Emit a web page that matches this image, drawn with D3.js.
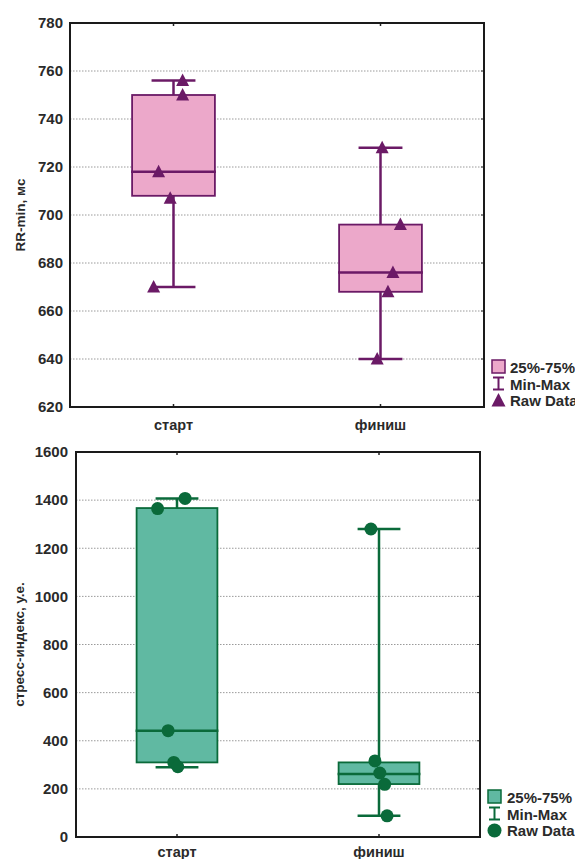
<!DOCTYPE html>
<html><head><meta charset="utf-8">
<script src="https://cdn.jsdelivr.net/npm/d3@7"></script>
<style>
body{margin:0;background:#fff;}
text{font-family:"Liberation Sans",Arial,sans-serif;}
</style></head>
<body><svg id="c" width="575" height="859"></svg>
<script>
// ---------- data ----------
const categories = ["старт", "финиш"];

// RR-min, мс
const rrTicks = [620,640,660,680,700,720,740,760,780];
const rrMin = [670, 640];
const rrQ1  = [708, 668];
const rrMed = [718, 676];
const rrQ3  = [750, 696];
const rrMax = [756, 728];
const rrRawStart  = [756, 750, 718, 707, 670];
const rrRawFinish = [728, 696, 676, 668, 640];
const rrJitterStart  = [0.11, 0.11, -0.18, -0.04, -0.24];
const rrJitterFinish = [0.02, 0.24, 0.15, 0.09, -0.04];

// стресс-индекс, у.е.
const siTicks = [0,200,400,600,800,1000,1200,1400,1600];
const siMin = [290, 88];
const siQ1  = [310, 220];
const siMed = [442, 262];
const siQ3  = [1367, 310];
const siMax = [1407, 1280];
const siRawStart  = [1407, 1365, 442, 310, 292];
const siRawFinish = [1280, 316, 266, 219, 88];
const siJitterStart  = [0.10, -0.24, -0.11, -0.04, 0.01];
const siJitterFinish = [-0.10, -0.05, 0.01, 0.07, 0.10];

const legendLabels = ["25%-75%", "Min-Max", "Raw Data"];

const svg = d3.select("#c");

function drawPanel(cfg){
  const {x0,x1,y0,y1,ticks,mins,q1s,meds,q3s,maxs,raws,jitters,fill,stroke,marker,ylabel,ylabX,tickGap,labelY,legend} = cfg;
  const g = svg.append("g");
  const x = d3.scaleBand().domain(categories).range([x0,x1]).paddingInner(0).paddingOuter(0);
  const y = d3.scaleLinear().domain([ticks[0], ticks[ticks.length-1]]).range([y1,y0]);
  const boxW = x.bandwidth()*0.40;
  const capW = boxW*0.53;
  const cx = c => x(c) + x.bandwidth()/2;

  // grid
  g.selectAll(".grid").data(ticks.slice(1,-1)).enter().append("line")
    .attr("x1",x0).attr("x2",x1).attr("y1",d=>y(d)).attr("y2",d=>y(d))
    .attr("stroke","#9a9a9a").attr("stroke-width",1).attr("stroke-dasharray","1.5,1.5");

  // y axis labels
  const ya = d3.axisLeft(y).tickValues(ticks).tickSize(0).tickPadding(tickGap).tickFormat(d3.format("d"));
  const yg = g.append("g").attr("transform",`translate(${x0},0)`).call(ya);
  yg.select(".domain").remove();
  yg.selectAll("text").attr("font-size",15).attr("font-weight","bold").attr("fill","#2a2a2a");

  // right ticks
  g.selectAll(".rt").data(ticks.slice(1,-1)).enter().append("line")
    .attr("x1",x1-3).attr("x2",x1).attr("y1",d=>y(d)).attr("y2",d=>y(d)).attr("stroke","#333");

  // x axis labels
  const xa = d3.axisBottom(x).tickSize(0).tickPadding(0);
  const xg = g.append("g").attr("transform",`translate(0,${labelY})`).call(xa);
  xg.select(".domain").remove();
  xg.selectAll("text").attr("font-size",14.5).attr("font-weight","bold").attr("fill","#2a2a2a").attr("dy","0");

  // category ticks top/bottom
  categories.forEach(c=>{
    g.append("line").attr("x1",cx(c)).attr("x2",cx(c)).attr("y1",y0).attr("y2",y0+3).attr("stroke","#222").attr("stroke-width",1.5);
    g.append("line").attr("x1",cx(c)).attr("x2",cx(c)).attr("y1",y1).attr("y2",y1-3).attr("stroke","#222").attr("stroke-width",1.5);
  });

  // ylabel
  g.append("text").attr("transform",`translate(${ylabX},${(y0+y1)/2}) rotate(-90)`)
    .attr("text-anchor","middle").attr("font-size",13.5).attr("font-weight","bold").attr("fill","#2a2a2a").text(ylabel);

  // boxes
  categories.forEach((c,i)=>{
    const xc = cx(c);
    g.append("line").attr("x1",xc).attr("x2",xc).attr("y1",y(maxs[i])).attr("y2",y(mins[i])).attr("stroke",stroke).attr("stroke-width",2.5);
    [mins[i],maxs[i]].forEach(v=>{
      g.append("line").attr("x1",xc-capW/2).attr("x2",xc+capW/2).attr("y1",y(v)).attr("y2",y(v)).attr("stroke",stroke).attr("stroke-width",2.5);
    });
    g.append("rect").attr("x",xc-boxW/2).attr("width",boxW).attr("y",y(q3s[i])).attr("height",y(q1s[i])-y(q3s[i]))
      .attr("fill",fill).attr("stroke",stroke).attr("stroke-width",1.8);
    g.append("line").attr("x1",xc-boxW/2-1).attr("x2",xc+boxW/2+1).attr("y1",y(meds[i])).attr("y2",y(meds[i])).attr("stroke",stroke).attr("stroke-width",2.5);
  });

  // raw data
  categories.forEach((c,i)=>{
    raws[i].forEach((v,j)=>{
      const px = cx(c) + jitters[i][j]*boxW, py = y(v);
      if(marker==="tri"){
        g.append("path").attr("d",`M${px},${py-7}L${px+6.5},${py+5.5}L${px-6.5},${py+5.5}Z`).attr("fill",stroke);
      } else {
        g.append("circle").attr("cx",px).attr("cy",py).attr("r",6.5).attr("fill",stroke);
      }
    });
  });

  // frame
  g.append("rect").attr("x",x0).attr("y",y0).attr("width",x1-x0).attr("height",y1-y0)
    .attr("fill","none").attr("stroke","#1a1a1a").attr("stroke-width",2);

  // legend
  const lx = legend.x, ly = legend.y, ls = 16.5;
  g.append("rect").attr("x",lx).attr("y",ly-12).attr("width",13).attr("height",13).attr("fill",fill).attr("stroke",stroke).attr("stroke-width",1.5);
  const mx = lx+6.5, my = ly+ls;
  g.append("line").attr("x1",mx).attr("x2",mx).attr("y1",my-11).attr("y2",my+1).attr("stroke",stroke).attr("stroke-width",2);
  g.append("line").attr("x1",mx-5.5).attr("x2",mx+5.5).attr("y1",my-11).attr("y2",my-11).attr("stroke",stroke).attr("stroke-width",2);
  g.append("line").attr("x1",mx-5.5).attr("x2",mx+5.5).attr("y1",my+1).attr("y2",my+1).attr("stroke",stroke).attr("stroke-width",2);
  const ry = ly+2*ls;
  if(marker==="tri"){
    g.append("path").attr("d",`M${mx},${ry-12}L${mx+7},${ry+1.5}L${mx-7},${ry+1.5}Z`).attr("fill",stroke);
  } else {
    g.append("circle").attr("cx",mx).attr("cy",ry-4.5).attr("r",7).attr("fill",stroke);
  }
  legendLabels.forEach((t,k)=>{
    g.append("text").attr("x",legend.tx).attr("y",ly+k*ls+1).attr("font-size",15).attr("font-weight","bold").attr("fill","#2a2a2a").text(t);
  });
}

drawPanel({x0:70,x1:484,y0:23,y1:407,ticks:rrTicks,mins:rrMin,q1s:rrQ1,meds:rrMed,q3s:rrQ3,maxs:rrMax,
  raws:[rrRawStart,rrRawFinish],jitters:[rrJitterStart,rrJitterFinish],fill:"#eca8ca",stroke:"#6b1a66",marker:"tri",
  ylabel:"RR-min, мс",ylabX:25,tickGap:7,labelY:430,legend:{x:492,y:372,tx:510}});

drawPanel({x0:76,x1:480,y0:452,y1:837,ticks:siTicks,mins:siMin,q1s:siQ1,meds:siMed,q3s:siQ3,maxs:siMax,
  raws:[siRawStart,siRawFinish],jitters:[siJitterStart,siJitterFinish],fill:"#60b9a2",stroke:"#0a6a3a",marker:"dot",
  ylabel:"стресс-индекс, у.е.",ylabX:24,tickGap:8,labelY:857,legend:{x:488,y:802,tx:507}});
</script></body></html>
